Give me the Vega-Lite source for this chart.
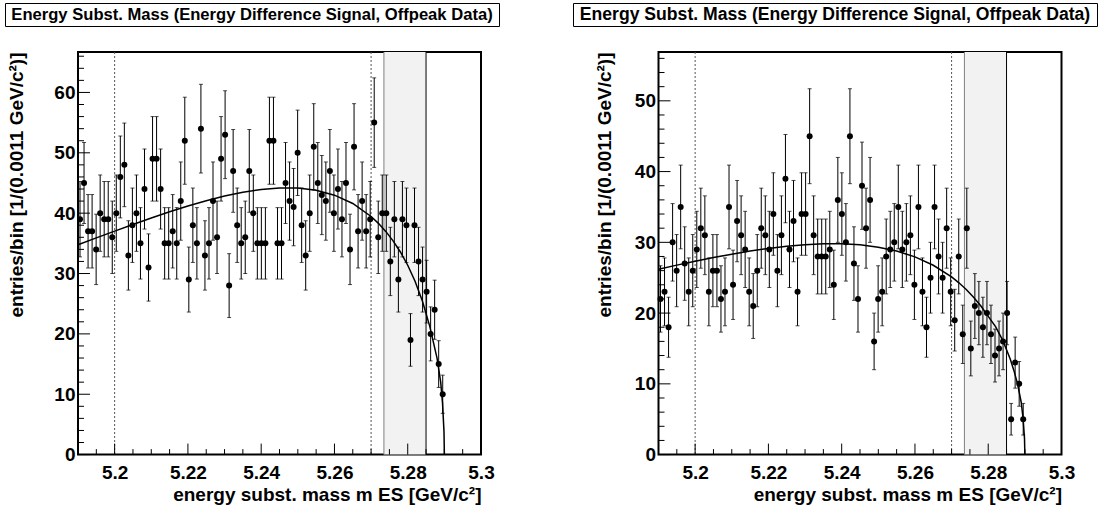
{
  "$schema": "https://vega.github.io/schema/vega-lite/v6.json",
  "padding": {"left": 4, "top": 2, "right": 2, "bottom": 2},
  "background": "white",
  "config": {
    "font": "Liberation Sans",
    "axis": {
      "domain": false, "grid": false, "ticks": false, "tickSize": 0, "zindex": 1,
      "labelColor": "black", "labelFont": "Liberation Sans", "labelFontWeight": "bold", "labelFontSize": 19,
      "titleFont": "Liberation Sans", "titleFontWeight": "bold", "titleFontSize": 19, "titleColor": "black",
      "labelFlush": false, "labelOverlap": false
    }
  },
  "datasets": {
    "region": [{"lo": 5.2735, "hi": 5.285}],
    "cuts": [{"c": 5.2}, {"c": 5.27}],
    "xmaj": [{"t":5.2},{"t":5.22},{"t":5.24},{"t":5.26},{"t":5.28},{"t":5.3}],
    "xmin": [{"t":5.195},{"t":5.205},{"t":5.21},{"t":5.215},{"t":5.225},{"t":5.23},{"t":5.235},{"t":5.245},{"t":5.25},{"t":5.255},{"t":5.265},{"t":5.27},{"t":5.275},{"t":5.285},{"t":5.29},{"t":5.295}],
    "ymajL": [{"t":0},{"t":10},{"t":20},{"t":30},{"t":40},{"t":50},{"t":60}],
    "yminL": [{"t":2},{"t":4},{"t":6},{"t":8},{"t":12},{"t":14},{"t":16},{"t":18},{"t":22},{"t":24},{"t":26},{"t":28},{"t":32},{"t":34},{"t":36},{"t":38},{"t":42},{"t":44},{"t":46},{"t":48},{"t":52},{"t":54},{"t":56},{"t":58},{"t":62},{"t":64},{"t":66}],
    "ymajR": [{"t":0},{"t":10},{"t":20},{"t":30},{"t":40},{"t":50}],
    "yminR": [{"t":2},{"t":4},{"t":6},{"t":8},{"t":12},{"t":14},{"t":16},{"t":18},{"t":22},{"t":24},{"t":26},{"t":28},{"t":32},{"t":34},{"t":36},{"t":38},{"t":42},{"t":44},{"t":46},{"t":48},{"t":52},{"t":54},{"t":56}],
    "left": [
      {"m":5.19055,"n":39,"e":6.245},{"m":5.19165,"n":45,"e":6.708},{"m":5.19275,"n":37,"e":6.083},{"m":5.19385,"n":37,"e":6.083},
      {"m":5.19495,"n":34,"e":5.831},{"m":5.19605,"n":40,"e":6.325},{"m":5.19715,"n":39,"e":6.245},{"m":5.19825,"n":39,"e":6.245},
      {"m":5.19935,"n":36,"e":6.0},{"m":5.20045,"n":40,"e":6.325},{"m":5.20155,"n":46,"e":6.782},{"m":5.20265,"n":48,"e":6.928},
      {"m":5.20375,"n":33,"e":5.745},{"m":5.20485,"n":38,"e":6.164},{"m":5.20595,"n":40,"e":6.325},{"m":5.20705,"n":35,"e":5.916},
      {"m":5.20815,"n":44,"e":6.633},{"m":5.20925,"n":31,"e":5.568},{"m":5.21035,"n":49,"e":7.0},{"m":5.21145,"n":49,"e":7.0},
      {"m":5.21255,"n":44,"e":6.633},{"m":5.21365,"n":35,"e":5.916},{"m":5.21475,"n":35,"e":5.916},{"m":5.21585,"n":37,"e":6.083},
      {"m":5.21695,"n":35,"e":5.916},{"m":5.21805,"n":42,"e":6.481},{"m":5.21915,"n":52,"e":7.211},{"m":5.22025,"n":29,"e":5.385},
      {"m":5.22135,"n":38,"e":6.164},{"m":5.22245,"n":35,"e":5.916},{"m":5.22355,"n":54,"e":7.348},{"m":5.22465,"n":33,"e":5.745},
      {"m":5.22575,"n":35,"e":5.916},{"m":5.22685,"n":42,"e":6.481},{"m":5.22795,"n":36,"e":6.0},{"m":5.22905,"n":49,"e":7.0},
      {"m":5.23015,"n":53,"e":7.28},{"m":5.23125,"n":28,"e":5.292},{"m":5.23235,"n":47,"e":6.856},{"m":5.23345,"n":38,"e":6.164},
      {"m":5.23455,"n":35,"e":5.916},{"m":5.23565,"n":36,"e":6.0},{"m":5.23675,"n":47,"e":6.856},{"m":5.23785,"n":40,"e":6.325},
      {"m":5.23895,"n":35,"e":5.916},{"m":5.24005,"n":35,"e":5.916},{"m":5.24115,"n":35,"e":5.916},{"m":5.24225,"n":52,"e":7.211},
      {"m":5.24335,"n":52,"e":7.211},{"m":5.24445,"n":35,"e":5.916},{"m":5.24555,"n":35,"e":5.916},{"m":5.24665,"n":45,"e":6.708},
      {"m":5.24775,"n":42,"e":6.481},{"m":5.24885,"n":41,"e":6.403},{"m":5.24995,"n":50,"e":7.071},{"m":5.25105,"n":38,"e":6.164},
      {"m":5.25215,"n":33,"e":5.745},{"m":5.25325,"n":40,"e":6.325},{"m":5.25435,"n":51,"e":7.141},{"m":5.25545,"n":45,"e":6.708},
      {"m":5.25655,"n":43,"e":6.557},{"m":5.25765,"n":42,"e":6.481},{"m":5.25875,"n":47,"e":6.856},{"m":5.25985,"n":40,"e":6.325},
      {"m":5.26095,"n":44,"e":6.633},{"m":5.26205,"n":39,"e":6.245},{"m":5.26315,"n":45,"e":6.708},{"m":5.26425,"n":34,"e":5.831},
      {"m":5.26535,"n":51,"e":7.141},{"m":5.26645,"n":37,"e":6.083},{"m":5.26755,"n":42,"e":6.481},{"m":5.26865,"n":37,"e":6.083},
      {"m":5.26975,"n":39,"e":6.245},{"m":5.27085,"n":55,"e":7.416},{"m":5.27195,"n":36,"e":6.0},{"m":5.27305,"n":40,"e":6.325},
      {"m":5.27415,"n":40,"e":6.325},{"m":5.27525,"n":32,"e":5.657},{"m":5.27635,"n":39,"e":6.245},{"m":5.27745,"n":29,"e":5.385},
      {"m":5.27855,"n":39,"e":6.245},{"m":5.27965,"n":38,"e":6.164},{"m":5.28075,"n":19,"e":4.359},{"m":5.28185,"n":38,"e":6.164},
      {"m":5.28295,"n":32,"e":5.657},{"m":5.28405,"n":29,"e":5.385},{"m":5.28515,"n":27,"e":5.196},{"m":5.28625,"n":20,"e":4.472},
      {"m":5.28735,"n":24,"e":4.899},{"m":5.28845,"n":15,"e":3.873},{"m":5.28955,"n":10,"e":3.162}
    ],
    "right": [
      {"m":5.19055,"n":22,"e":4.69},{"m":5.19165,"n":23,"e":4.796},{"m":5.19275,"n":18,"e":4.243},{"m":5.19385,"n":30,"e":5.477},
      {"m":5.19495,"n":26,"e":5.099},{"m":5.19605,"n":35,"e":5.916},{"m":5.19715,"n":27,"e":5.196},{"m":5.19825,"n":23,"e":4.796},
      {"m":5.19935,"n":26,"e":5.099},{"m":5.20045,"n":29,"e":5.385},{"m":5.20155,"n":32,"e":5.657},{"m":5.20265,"n":31,"e":5.568},
      {"m":5.20375,"n":23,"e":4.796},{"m":5.20485,"n":26,"e":5.099},{"m":5.20595,"n":26,"e":5.099},{"m":5.20705,"n":22,"e":4.69},
      {"m":5.20815,"n":23,"e":4.796},{"m":5.20925,"n":35,"e":5.916},{"m":5.21035,"n":24,"e":4.899},{"m":5.21145,"n":33,"e":5.745},
      {"m":5.21255,"n":31,"e":5.568},{"m":5.21365,"n":29,"e":5.385},{"m":5.21475,"n":23,"e":4.796},{"m":5.21585,"n":21,"e":4.583},
      {"m":5.21695,"n":26,"e":5.099},{"m":5.21805,"n":32,"e":5.657},{"m":5.21915,"n":31,"e":5.568},{"m":5.22025,"n":29,"e":5.385},
      {"m":5.22135,"n":34,"e":5.831},{"m":5.22245,"n":26,"e":5.099},{"m":5.22355,"n":31,"e":5.568},{"m":5.22465,"n":39,"e":6.245},
      {"m":5.22575,"n":29,"e":5.385},{"m":5.22685,"n":33,"e":5.745},{"m":5.22795,"n":23,"e":4.796},{"m":5.22905,"n":34,"e":5.831},
      {"m":5.23015,"n":34,"e":5.831},{"m":5.23125,"n":45,"e":6.708},{"m":5.23235,"n":31,"e":5.568},{"m":5.23345,"n":28,"e":5.292},
      {"m":5.23455,"n":28,"e":5.292},{"m":5.23565,"n":28,"e":5.292},{"m":5.23675,"n":29,"e":5.385},{"m":5.23785,"n":24,"e":4.899},
      {"m":5.23895,"n":36,"e":6.0},{"m":5.24005,"n":34,"e":5.831},{"m":5.24115,"n":30,"e":5.477},{"m":5.24225,"n":45,"e":6.708},
      {"m":5.24335,"n":27,"e":5.196},{"m":5.24445,"n":22,"e":4.69},{"m":5.24555,"n":38,"e":6.164},{"m":5.24665,"n":32,"e":5.657},
      {"m":5.24775,"n":36,"e":6.0},{"m":5.24885,"n":16,"e":4.0},{"m":5.24995,"n":22,"e":4.69},{"m":5.25105,"n":23,"e":4.796},
      {"m":5.25215,"n":28,"e":5.292},{"m":5.25325,"n":29,"e":5.385},{"m":5.25435,"n":30,"e":5.477},{"m":5.25545,"n":35,"e":5.916},
      {"m":5.25655,"n":29,"e":5.385},{"m":5.25765,"n":30,"e":5.477},{"m":5.25875,"n":31,"e":5.568},{"m":5.25985,"n":24,"e":4.899},
      {"m":5.26095,"n":35,"e":5.916},{"m":5.26205,"n":23,"e":4.796},{"m":5.26315,"n":18,"e":4.243},{"m":5.26425,"n":25,"e":5.0},
      {"m":5.26535,"n":35,"e":5.916},{"m":5.26645,"n":28,"e":5.292},{"m":5.26755,"n":25,"e":5.0},{"m":5.26865,"n":32,"e":5.657},
      {"m":5.26975,"n":23,"e":4.796},{"m":5.27085,"n":19,"e":4.359},{"m":5.27195,"n":28,"e":5.292},{"m":5.27305,"n":17,"e":4.123},
      {"m":5.27415,"n":32,"e":5.657},{"m":5.27525,"n":15,"e":3.873},{"m":5.27635,"n":21,"e":4.583},{"m":5.27745,"n":20,"e":4.472},
      {"m":5.27855,"n":18,"e":4.243},{"m":5.27965,"n":20,"e":4.472},{"m":5.28075,"n":17,"e":4.123},{"m":5.28185,"n":14,"e":3.742},
      {"m":5.28295,"n":15,"e":3.873},{"m":5.28405,"n":16,"e":4.0},{"m":5.28515,"n":20,"e":4.472},{"m":5.28625,"n":5,"e":2.236},
      {"m":5.28735,"n":13,"e":3.606},{"m":5.28845,"n":10,"e":3.162},{"m":5.28955,"n":5,"e":2.236}
    ],
    "leftfit": [
      {"m":5.19,"f":34.77},{"m":5.195,"f":35.91},{"m":5.2,"f":37.03},{"m":5.205,"f":38.13},{"m":5.21,"f":39.2},
      {"m":5.215,"f":40.22},{"m":5.22,"f":41.18},{"m":5.225,"f":42.06},{"m":5.23,"f":42.83},{"m":5.235,"f":43.47},
      {"m":5.24,"f":43.93},{"m":5.245,"f":44.18},{"m":5.25,"f":44.15},{"m":5.255,"f":43.79},{"m":5.26,"f":42.98},
      {"m":5.265,"f":41.6},{"m":5.27,"f":39.45},{"m":5.272,"f":38.31},{"m":5.274,"f":36.98},{"m":5.276,"f":35.41},
      {"m":5.278,"f":33.57},{"m":5.28,"f":31.37},{"m":5.282,"f":28.72},{"m":5.284,"f":25.46},{"m":5.286,"f":21.28},
      {"m":5.287,"f":18.64},{"m":5.288,"f":16.0},{"m":5.289,"f":12.0},{"m":5.2895,"f":8.5},{"m":5.2899,"f":3.8},{"m":5.29,"f":0}
    ],
    "rightfit": [
      {"m":5.19,"f":26.2},{"m":5.195,"f":26.78},{"m":5.2,"f":27.33},{"m":5.205,"f":27.85},{"m":5.21,"f":28.33},
      {"m":5.215,"f":28.76},{"m":5.22,"f":29.14},{"m":5.225,"f":29.45},{"m":5.23,"f":29.67},{"m":5.235,"f":29.79},
      {"m":5.24,"f":29.8},{"m":5.245,"f":29.65},{"m":5.25,"f":29.32},{"m":5.255,"f":28.77},{"m":5.26,"f":27.94},
      {"m":5.265,"f":26.76},{"m":5.27,"f":25.11},{"m":5.272,"f":24.28},{"m":5.274,"f":23.34},{"m":5.276,"f":22.25},
      {"m":5.278,"f":21.0},{"m":5.28,"f":19.54},{"m":5.282,"f":18.1},{"m":5.284,"f":16.1},{"m":5.286,"f":13.5},
      {"m":5.287,"f":11.9},{"m":5.288,"f":10.0},{"m":5.289,"f":7.4},{"m":5.2895,"f":5.2},{"m":5.2899,"f":2.3},{"m":5.29,"f":0}
    ],
    "titles": [{"t": "Energy Subst. Mass (Energy Difference Signal, Offpeak Data)"}],
    "blank": [{"b": 0}]
  },
  "vconcat": [
    {
      "hconcat": [
        {
          "width": 494, "height": 23,
          "view": {"stroke": "black", "strokeWidth": 1},
          "data": {"name": "titles"},
          "mark": {"type": "text", "font": "Liberation Sans", "fontWeight": "bold", "fontSize": 16.6, "color": "black", "align": "center", "baseline": "middle"},
          "encoding": {"text": {"field": "t"}}
        },
        {
          "width": 524, "height": 23,
          "view": {"stroke": "black", "strokeWidth": 1},
          "data": {"name": "titles"},
          "mark": {"type": "text", "font": "Liberation Sans", "fontWeight": "bold", "fontSize": 17.6, "color": "black", "align": "center", "baseline": "middle"},
          "encoding": {"text": {"field": "t"}}
        }
      ],
      "spacing": 72, "bounds": "full"
    },
    {
      "hconcat": [
        {
          "width": 1, "height": 1,
          "view": {"stroke": null, "fill": null},
          "data": {"name": "blank"},
          "mark": {"type": "rect", "opacity": 0},
          "encoding": {}
        },
        {
          "hconcat": [
            {
              "width": 403, "height": 402.6,
              "view": {"stroke": "black", "strokeWidth": 2},
              "layer": [
                {"data": {"name": "region"}, "mark": {"type": "rect", "fill": "#f2f2f2"},
                 "encoding": {
                   "x": {"field": "lo", "type": "quantitative",
                         "scale": {"domain": [5.19, 5.3], "nice": false, "zero": false},
                         "axis": {"title": "energy subst. mass m ES [GeV/c²]",
                                  "values": [5.2,5.22,5.24,5.26,5.28,5.3], "format": ".2~f",
                                  "ticks": false, "tickSize": 0, "labelOverlap": false, "labelFlush": false,
                                  "labelBaseline": "alphabetic", "labelPadding": 23.4,
                                  "titleAnchor": "end", "titleAlign": "right", "titleBaseline": "alphabetic", "titleY": 46}},
                   "x2": {"field": "hi"}}},
                {"data": {"name": "region"}, "mark": {"type": "rule", "color": "#808080", "strokeWidth": 1},
                 "encoding": {"x": {"field": "lo", "type": "quantitative"}}},
                {"data": {"name": "region"}, "mark": {"type": "rule", "color": "black", "strokeWidth": 1},
                 "encoding": {"x": {"field": "hi", "type": "quantitative"}}},
                {"data": {"name": "cuts"}, "mark": {"type": "rule", "color": "#555555", "strokeWidth": 1, "strokeDash": [2, 2]},
                 "encoding": {"x": {"field": "c", "type": "quantitative"}}},
                {"data": {"name": "xmaj"}, "mark": {"type": "rule", "color": "black", "strokeWidth": 1},
                 "encoding": {"x": {"field": "t", "type": "quantitative"}, "y": {"datum": 0}, "y2": {"datum": 1.822}}},
                {"data": {"name": "xmin"}, "mark": {"type": "rule", "color": "black", "strokeWidth": 1},
                 "encoding": {"x": {"field": "t", "type": "quantitative"}, "y": {"datum": 0}, "y2": {"datum": 0.911}}},
                {"data": {"name": "ymajL"}, "mark": {"type": "rule", "color": "black", "strokeWidth": 1},
                 "encoding": {"y": {"field": "t", "type": "quantitative"}, "x": {"datum": 5.19}, "x2": {"datum": 5.19327}}},
                {"data": {"name": "yminL"}, "mark": {"type": "rule", "color": "black", "strokeWidth": 1},
                 "encoding": {"y": {"field": "t", "type": "quantitative"}, "x": {"datum": 5.19}, "x2": {"datum": 5.19164}}},
                {"data": {"name": "leftfit"}, "mark": {"type": "line", "color": "black", "strokeWidth": 1.5},
                 "encoding": {
                   "x": {"field": "m", "type": "quantitative"},
                   "y": {"field": "f", "type": "quantitative", "title": "entries/bin [1/(0.0011 GeV/c²)]",
                         "scale": {"domain": [0, 66.7], "nice": false},
                         "axis": {"title": "entries/bin [1/(0.0011 GeV/c²)]",
                                  "values": [0,10,20,30,40,50,60],
                                  "ticks": false, "tickSize": 0, "labelOverlap": false,
                                  "labelPadding": 3, "labelBaseline": "middle",
                                  "titleAnchor": "end", "titleAlign": "right", "titleAngle": 270, "titleBaseline": "bottom", "titleX": -51.7}}}},
                {"data": {"name": "left"}, "mark": {"type": "errorbar", "color": "black", "thickness": 1, "ticks": {"size": 4, "thickness": 1}},
                 "encoding": {
                   "x": {"field": "m", "type": "quantitative"},
                   "y": {"field": "n", "type": "quantitative", "title": "entries/bin [1/(0.0011 GeV/c²)]"},
                   "yError": {"field": "e"}}},
                {"data": {"name": "left"}, "mark": {"type": "circle", "size": 36, "color": "black", "opacity": 1},
                 "encoding": {
                   "x": {"field": "m", "type": "quantitative"},
                   "y": {"field": "n", "type": "quantitative", "title": "entries/bin [1/(0.0011 GeV/c²)]"}}}
              ]
            },
            {
              "width": 403, "height": 402.6,
              "view": {"stroke": "black", "strokeWidth": 2},
              "layer": [
                {"data": {"name": "region"}, "mark": {"type": "rect", "fill": "#f2f2f2"},
                 "encoding": {
                   "x": {"field": "lo", "type": "quantitative",
                         "scale": {"domain": [5.19, 5.3], "nice": false, "zero": false},
                         "axis": {"title": "energy subst. mass m ES [GeV/c²]",
                                  "values": [5.2,5.22,5.24,5.26,5.28,5.3], "format": ".2~f",
                                  "ticks": false, "tickSize": 0, "labelOverlap": false, "labelFlush": false,
                                  "labelBaseline": "alphabetic", "labelPadding": 23.4,
                                  "titleAnchor": "end", "titleAlign": "right", "titleBaseline": "alphabetic", "titleY": 46}},
                   "x2": {"field": "hi"}}},
                {"data": {"name": "region"}, "mark": {"type": "rule", "color": "#808080", "strokeWidth": 1},
                 "encoding": {"x": {"field": "lo", "type": "quantitative"}}},
                {"data": {"name": "region"}, "mark": {"type": "rule", "color": "black", "strokeWidth": 1},
                 "encoding": {"x": {"field": "hi", "type": "quantitative"}}},
                {"data": {"name": "cuts"}, "mark": {"type": "rule", "color": "#555555", "strokeWidth": 1, "strokeDash": [2, 2]},
                 "encoding": {"x": {"field": "c", "type": "quantitative"}}},
                {"data": {"name": "xmaj"}, "mark": {"type": "rule", "color": "black", "strokeWidth": 1},
                 "encoding": {"x": {"field": "t", "type": "quantitative"}, "y": {"datum": 0}, "y2": {"datum": 1.555}}},
                {"data": {"name": "xmin"}, "mark": {"type": "rule", "color": "black", "strokeWidth": 1},
                 "encoding": {"x": {"field": "t", "type": "quantitative"}, "y": {"datum": 0}, "y2": {"datum": 0.777}}},
                {"data": {"name": "ymajR"}, "mark": {"type": "rule", "color": "black", "strokeWidth": 1},
                 "encoding": {"y": {"field": "t", "type": "quantitative"}, "x": {"datum": 5.19}, "x2": {"datum": 5.19327}}},
                {"data": {"name": "yminR"}, "mark": {"type": "rule", "color": "black", "strokeWidth": 1},
                 "encoding": {"y": {"field": "t", "type": "quantitative"}, "x": {"datum": 5.19}, "x2": {"datum": 5.19164}}},
                {"data": {"name": "rightfit"}, "mark": {"type": "line", "color": "black", "strokeWidth": 1.5},
                 "encoding": {
                   "x": {"field": "m", "type": "quantitative"},
                   "y": {"field": "f", "type": "quantitative", "title": "entries/bin [1/(0.0011 GeV/c²)]",
                         "scale": {"domain": [0, 56.9], "nice": false},
                         "axis": {"title": "entries/bin [1/(0.0011 GeV/c²)]",
                                  "values": [0,10,20,30,40,50],
                                  "ticks": false, "tickSize": 0, "labelOverlap": false,
                                  "labelPadding": 3, "labelBaseline": "middle",
                                  "titleAnchor": "end", "titleAlign": "right", "titleAngle": 270, "titleBaseline": "bottom", "titleX": -44.2}}}},
                {"data": {"name": "right"}, "mark": {"type": "errorbar", "color": "black", "thickness": 1, "ticks": {"size": 4, "thickness": 1}},
                 "encoding": {
                   "x": {"field": "m", "type": "quantitative"},
                   "y": {"field": "n", "type": "quantitative", "title": "entries/bin [1/(0.0011 GeV/c²)]"},
                   "yError": {"field": "e"}}},
                {"data": {"name": "right"}, "mark": {"type": "circle", "size": 36, "color": "black", "opacity": 1},
                 "encoding": {
                   "x": {"field": "m", "type": "quantitative"},
                   "y": {"field": "n", "type": "quantitative", "title": "entries/bin [1/(0.0011 GeV/c²)]"}}}
              ]
            }
          ],
          "spacing": 97.5, "bounds": "full"
        }
      ],
      "spacing": 0, "bounds": "full"
    }
  ],
  "spacing": 23,
  "bounds": "full"
}
